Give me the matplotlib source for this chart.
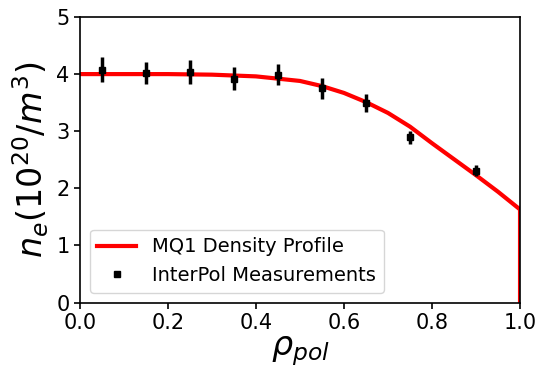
import matplotlib.pyplot as plt

# MQ1 profile
rho_fit = [0.0, 0.1, 0.2, 0.3, 0.4, 0.5, 0.55, 0.6, 0.65, 0.7, 0.75, 0.8, 0.85, 0.9, 0.95, 1.0, 1.0]
ne_fit = [4.0, 4.0, 4.0, 3.99, 3.96, 3.88, 3.79, 3.67, 3.51, 3.32, 3.08, 2.79, 2.51, 2.23, 1.94, 1.63, 0.0]

# InterPol measurements
rho_meas = [0.05, 0.15, 0.25, 0.35, 0.45, 0.55, 0.65, 0.75, 0.9]
ne_meas = [4.08, 4.02, 4.03, 3.92, 3.99, 3.75, 3.49, 2.89, 2.31]
ne_err = [0.22, 0.2, 0.21, 0.2, 0.18, 0.18, 0.16, 0.12, 0.1]


def main():
    fig, ax = plt.subplots(figsize=(5.4, 3.69), dpi=100)
    fig.subplots_adjust(left=0.148, right=0.963, top=0.954, bottom=0.18)

    ax.plot(rho_fit, ne_fit, color='red', lw=3, label='MQ1 Density Profile')
    ax.errorbar(rho_meas, ne_meas, yerr=ne_err, fmt='none', ecolor='black',
                elinewidth=2.5, capsize=0)
    ax.plot(rho_meas, ne_meas, 's', color='black', ms=5,
            label='InterPol Measurements')

    ax.set_xlim(0, 1)
    ax.set_ylim(0, 5)
    ax.set_xlabel(r'$\rho_{pol}$', fontsize=24, labelpad=1)
    ax.set_ylabel(r'$n_e(10^{20}/m^3)$', fontsize=24)
    ax.tick_params(labelsize=15, width=1.2, length=4)
    for s in ax.spines.values():
        s.set_linewidth(1.2)
    ax.legend(loc='lower left', fontsize=14)

    plt.savefig('out.png')
    plt.close()


if __name__ == '__main__':
    main()
